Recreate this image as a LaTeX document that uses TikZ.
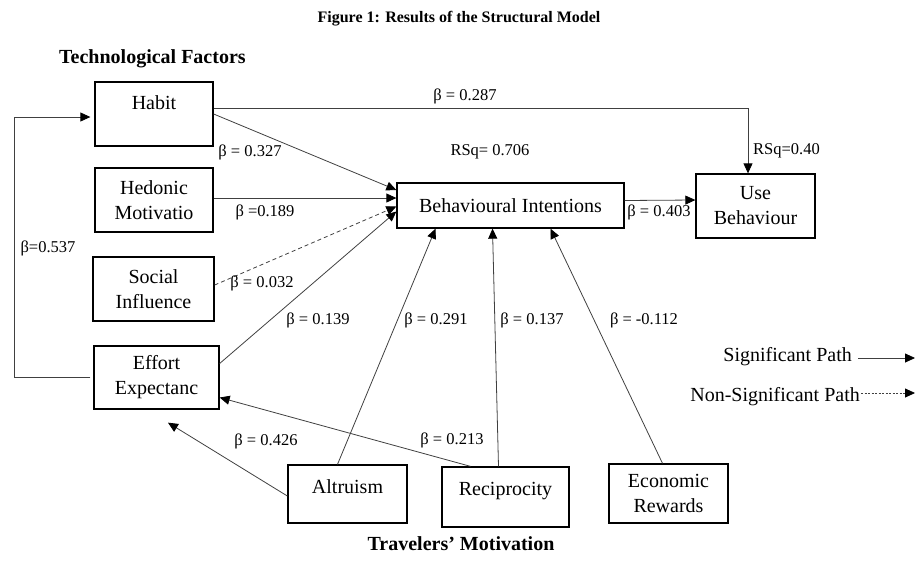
\documentclass[tikz,border=0pt]{standalone}
\usepackage{fontspec}
\setmainfont{Liberation Serif}
\usetikzlibrary{arrows.meta}
\tikzset{
  box/.style={draw,line width=1.3pt,align=center,inner sep=0pt,font=\fontsize{20}{25}\selectfont},
  conn/.style={draw=black!75,line width=0.8pt,-{Triangle[length=10pt,width=9pt,black]}},
  nonsig/.style={conn,dash pattern=on 4pt off 3pt},
  beta/.style={font=\fontsize{16.5}{19}\selectfont,inner sep=1pt},
  head/.style={font=\fontsize{20}{23}\selectfont\bfseries}
}
\begin{document}
\begin{tikzpicture}[x=1pt,y=-1pt]
\useasboundingbox (0,0) rectangle (919,566);
\node[font=\fontsize{16}{19}\selectfont\bfseries] (title) at (459,19) {Figure 1: Results of the Structural Model};
\node[head,anchor=west,inner sep=0pt] (techhead) at (59,59) {Technological Factors};
\node[head] (travhead) at (461,544) {Travelers’ Motivation};

\node[box,minimum width=118pt,minimum height=64pt] (habit) at (154,114) {Habit\\[-3pt]\mbox{}};
\node[box,minimum width=118pt,minimum height=64pt] (hedonic) at (154,200) {Hedonic\\Motivatio};
\node[box,minimum width=121pt,minimum height=64pt] (social) at (153.5,289) {Social\\Influence};
\node[box,minimum width=125pt,minimum height=63pt] (effort) at (156.5,377.5) {Effort\\Expectanc};
\node[box,minimum width=227pt,minimum height=45pt] (bi) at (510.5,205.5) {Behavioural Intentions};
\node[box,minimum width=119pt,minimum height=64pt] (use) at (755.5,206) {Use\\Behaviour};
\node[box,minimum width=119pt,minimum height=58pt] (altruism) at (347.5,494) {Altruism\\[-11pt]\mbox{}};
\node[box,minimum width=127pt,minimum height=60pt] (recip) at (505.5,497) {Reciprocity\\[-9pt]\mbox{}};
\node[box,minimum width=119pt,minimum height=59pt] (econ) at (668.5,493.5) {Economic\\Rewards};

\draw[conn] ([yshift=6pt]habit.east) -| ([xshift=-7.5pt]use.north);
\draw[conn] (habit.east) -- ([yshift=15.5pt]bi.west);
\draw[conn] ([yshift=2pt]hedonic.east) -- ([yshift=7.5pt]bi.west);
\draw[nonsig] ([yshift=4pt]social.east) -- ([yshift=-1pt]bi.west);
\draw[conn] ([yshift=14pt]effort.east) -- ([yshift=-6pt]bi.west);
\draw[conn] ([xshift=-10pt]altruism.north) -- ([xshift=-75pt]bi.south);
\draw[conn] ([xshift=-7pt]recip.north) -- ([xshift=-18pt]bi.south);
\draw[conn] ([xshift=-6pt]econ.north) -- ([xshift=40pt]bi.south);
\draw[conn] ([yshift=5pt]bi.east) -- ([yshift=6pt]use.west);
\draw[conn] ([yshift=-2pt]altruism.west) -- ([xshift=11.5pt,yshift=-13pt]effort.south);
\draw[conn] ([xshift=-35pt]recip.north) -- ([yshift=-20pt]effort.east);
\draw[conn,shorten >=4pt] ([xshift=-3pt]effort.west) -- (14,377.5) |- ([yshift=-3pt]habit.west);

\foreach \n/\x/\y/\t in {b287/465/96/{β = 0.287},b327/250/152/{β = 0.327},b189/265/212/{β =0.189},
  b032/262/283/{β = 0.032},b139/318/320/{β = 0.139},b291/436/320/{β = 0.291},b137/532/320/{β = 0.137},
  b112/644/320/{β = -0.112},b426/266/441/{β = 0.426},b213/452/440/{β = 0.213},b537/48/248/{β=0.537},
  b403/659/212/{β = 0.403},rsqbi/490/152/{RSq= 0.706}}{
\node[beta] (\n) at (\x,\y) {\t};
}
\node[beta,anchor=west] (rsquse) at (752,151) {RSq=0.40};

\node[font=\fontsize{20}{23}\selectfont,anchor=east,inner sep=0pt] (sig) at (852,357) {Significant Path};
\node[font=\fontsize{20}{23}\selectfont,anchor=east,inner sep=0pt] (nsig) at (860,397) {Non-Significant Path};
\coordinate (sigend) at (915,358);
\coordinate (nsigend) at (915,393);
\draw[conn] ([xshift=6pt,yshift=-1pt]sig.east) -- (sigend);
\draw[conn,dash pattern=on 2pt off 1.5pt] ([xshift=1pt,yshift=4pt]nsig.east) -- (nsigend);
\end{tikzpicture}
\end{document}
